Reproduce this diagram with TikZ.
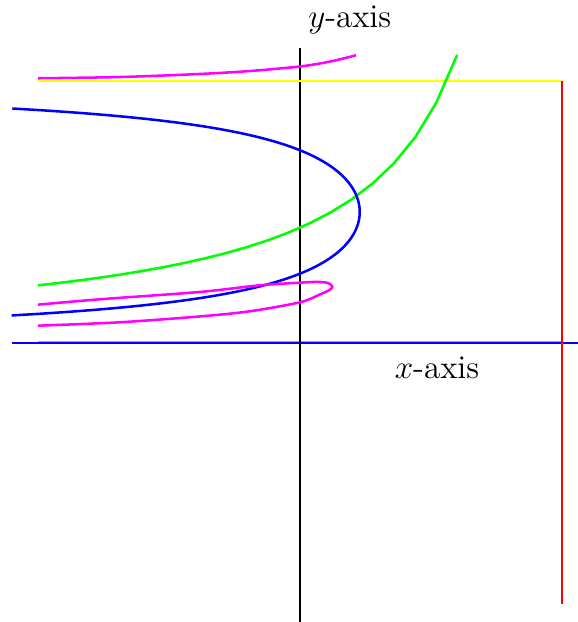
\documentclass[tikz,border=0pt]{standalone}
\usepackage{tikz}
\usetikzlibrary{positioning}
\definecolor{PlotMagenta}{RGB}{255,0,255}
\definecolor{PlotYellow}{RGB}{255,255,0}
\definecolor{PlotGreen}{RGB}{0,255,0}
\definecolor{PlotBlue}{RGB}{0,0,255}
\definecolor{PlotRed}{RGB}{255,0,0}
\definecolor{PlotOrange}{RGB}{230,160,60}
\begin{document}
\begin{tikzpicture}[
    x=4cm, y=4cm,
    axisline/.style={line width=1.1pt},
    curve/.style={line width=1.1pt, line join=round},
    lbl/.style={font=\Large, inner sep=0pt}
  ]
  \useasboundingbox (-1.145,-1.065) rectangle (1.061,1.309);

  % axes and frame
  \coordinate (xl) at (-1.1,0);   \coordinate (xr) at (1.061,0);
  \coordinate (yb) at (0,-1.065); \coordinate (yt) at (0,1.126);
  \coordinate (ol) at (-1,0.004); \coordinate (or) at (1,0.004);
  \coordinate (tl) at (-1,1);     \coordinate (tr) at (1,1);
  \coordinate (br) at (1,-0.996);

  \draw[axisline, PlotOrange] (ol) -- (or);
  \draw[axisline, PlotBlue] (xl) -- (xr);
  \draw[axisline, black] (yb) -- (yt);
  \draw[axisline, PlotYellow] (tl) -- (tr);
  \draw[axisline, PlotRed] (tr) -- (br);

  \node[lbl] (ylbl) at (0.19,1.233) {$y$-axis};
  \node[lbl] (xlbl) at (0.523,-0.095) {$x$-axis};

  % curves
  \draw[curve, PlotGreen, samples=21, domain=-1:0.6] plot (\x, {0.44/(1-\x)});
  \draw[curve, PlotBlue, samples=120, domain=0.105:0.895, variable=\t]
    plot ({1.028-0.2/(\t*(1-\t))}, \t);
  \draw[curve, PlotMagenta] plot[smooth] coordinates {
    (-1,1.0103) (-0.687,1.015) (-0.382,1.0267) (-0.191,1.038)
    (0,1.0553) (0.115,1.074) (0.214,1.098)};
  \draw[curve, PlotMagenta] plot[smooth] coordinates {
    (-1,0.1462) (-0.763,0.1668) (-0.382,0.1947) (-0.153,0.2202)
    (0,0.2302) (0.069,0.2330) (0.108,0.2285) (0.124,0.2137)
    (0.108,0.1995) (0.076,0.1851) (0,0.1553) (-0.191,0.1210)
    (-0.382,0.1013) (-0.687,0.0790) (-1,0.0660)};
\end{tikzpicture}
\end{document}
